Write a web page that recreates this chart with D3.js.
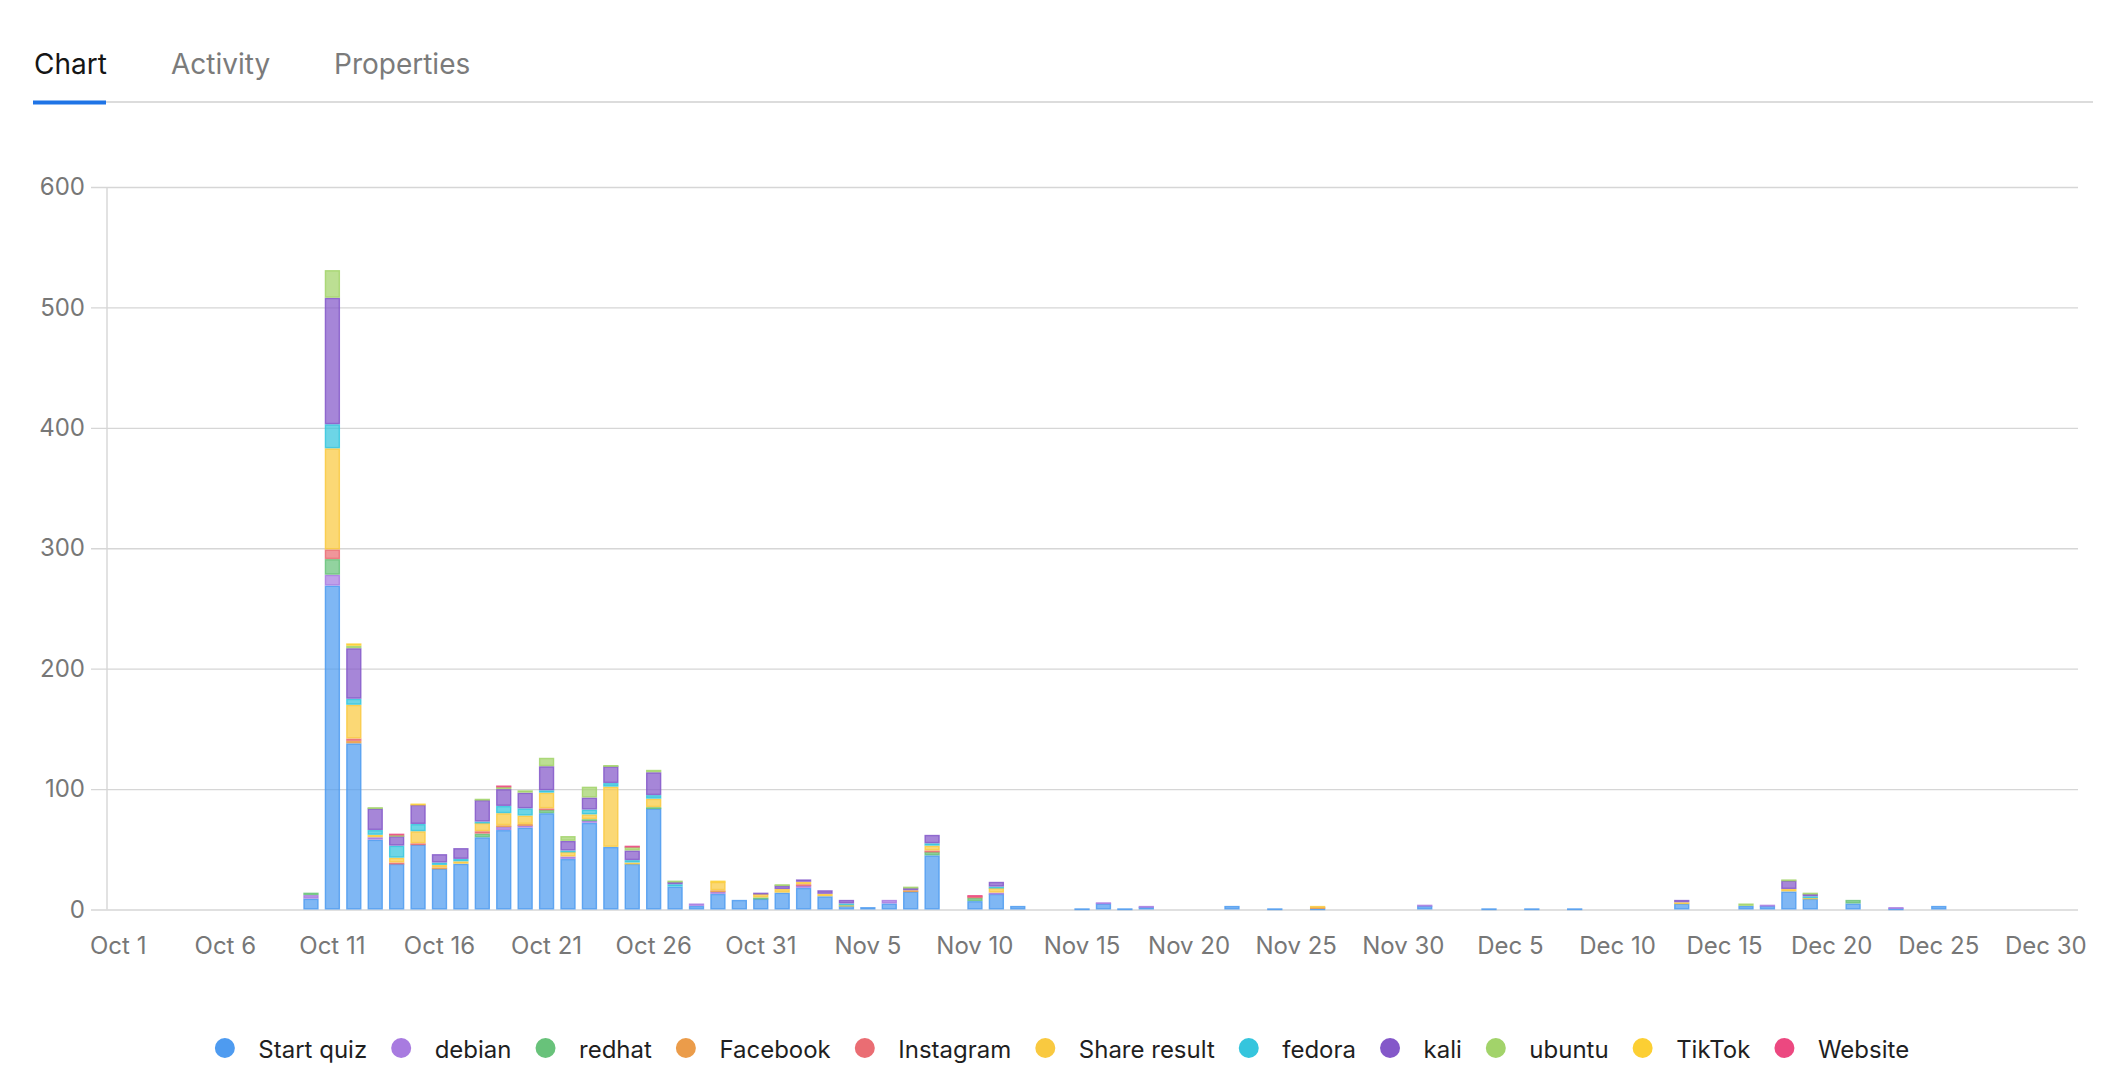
<!DOCTYPE html>
<html><head><meta charset="utf-8">
<script src="https://cdn.jsdelivr.net/npm/d3@7"></script>
<style>
html,body{margin:0;padding:0;background:#fff;}
svg{display:block;font-family:Inter,"Noto Sans",sans-serif;}
</style></head><body>
<svg id="c" width="2108" height="1089"></svg>
<script>
// ---------- data ----------
const tabs = ["Chart", "Activity", "Properties"];
const seriesNames = ["Start quiz","debian","redhat","Facebook","Instagram","Share result","fedora","kali","ubuntu","TikTok","Website"];
const seriesColors = ["#4e9bf0","#a87be0","#68c27a","#eb9c4a","#ea6d73","#f9c940","#35c5dd","#8458c9","#a2d36a","#fccf33","#ec4880"];
const xTickLabels = ["Oct 1","Oct 6","Oct 11","Oct 16","Oct 21","Oct 26","Oct 31","Nov 5","Nov 10","Nov 15","Nov 20","Nov 25","Nov 30","Dec 5","Dec 10","Dec 15","Dec 20","Dec 25","Dec 30"];
const yTicks = [0,100,200,300,400,500,600];

// one value per day, Oct 1 .. Dec 31
const startQuiz = [
  0,0,0,0,0,0,0,0,0,9,   269,138,58,38,54,34,38,60,66,68,   80,42,72,52,38,84,19,3,13,8,   9,
  14,18,11,3,2,5,15,45,0,7,   13,3,0,0,1,5,1,2,0,0,   0,3,0,1,0,1,0,0,0,0,
  3,0,0,1,0,1,0,1,0,0,   0,0,5,0,0,3,3,15,9,0,   5,0,1,0,3,0,0,0,0,0,   0];
const debian = [
  0,0,0,0,0,0,0,0,0,3,   9,0,2,0,0,0,0,0,3,2,   0,2,2,0,0,0,0,2,2,0,   0,
  0,2,0,0,0,3,0,0,0,0,   1,0,0,0,0,1,0,1,0,0,   0,0,0,0,0,0,0,0,0,0,
  1,0,0,0,0,0,0,0,0,0,   0,0,0,0,0,0,1,0,0,0,   0,0,1,0,0,0,0,0,0,0,   0];
const redhat = [
  0,0,0,0,0,0,0,0,0,2,   13,0,0,0,0,0,0,3,0,0,   3,0,1,0,0,1,0,0,0,0,   1,
  0,0,0,0,0,0,0,3,0,3,   0,0,0,0,0,0,0,0,0,0,   0,0,0,0,0,0,0,0,0,0,
  0,0,0,0,0,0,0,0,0,0,   0,0,0,0,0,0,0,0,0,0,   3,0,0,0,0,0,0,0,0,0,   0];
const facebook = [
  0,0,0,0,0,0,0,0,0,0,   0,2,0,0,0,1,0,0,1,1,   0,0,0,0,0,0,0,0,1,0,   0,
  0,0,0,0,0,0,1,0,0,0,   0,0,0,0,0,0,0,0,0,0,   0,0,0,0,0,1,0,0,0,0,
  0,0,0,0,0,0,0,0,0,0,   0,0,0,0,0,0,0,0,0,0,   0,0,0,0,0,0,0,0,0,0,   0];
const instagram = [
  0,0,0,0,0,0,0,0,0,0,   8,2,0,1,1,0,0,2,0,0,   1,0,0,0,0,0,0,0,0,0,   0,
  0,1,0,0,0,0,0,1,0,1,   0,0,0,0,0,0,0,0,0,0,   0,0,0,0,0,0,0,0,0,0,
  0,0,0,0,0,0,0,0,0,0,   0,0,0,0,0,0,0,0,0,0,   0,0,0,0,0,0,0,0,0,0,   0];
const shareResult = [
  0,0,0,0,0,0,0,0,0,0,   84,28,2,4,10,2,2,7,10,7,   13,4,4,50,1,7,0,0,7,0,   3,
  3,2,2,1,0,0,0,4,0,0,   4,0,0,0,0,0,0,0,0,0,   0,0,0,0,0,1,0,0,0,0,
  0,0,0,0,0,0,0,0,0,0,   0,0,1,0,0,0,0,2,1,0,   0,0,0,0,0,0,0,0,0,0,   0];
const fedora = [
  0,0,0,0,0,0,0,0,0,0,   20,5,4,10,6,2,2,1,6,6,   2,1,4,3,2,3,2,0,0,0,   0,
  0,0,0,1,0,0,0,2,0,0,   1,0,0,0,0,0,0,0,0,0,   0,0,0,0,0,0,0,0,0,0,
  0,0,0,0,0,0,0,0,0,0,   0,0,0,0,0,0,0,0,1,0,   0,0,0,0,0,0,0,0,0,0,   0];
const kali = [
  0,0,0,0,0,0,0,0,0,0,   105,42,18,8,16,7,9,18,14,13,   20,8,10,14,8,19,2,0,0,0,   1,
  3,2,3,3,0,0,2,7,0,0,   4,0,0,0,0,0,0,0,0,0,   0,0,0,0,0,0,0,0,0,0,
  0,0,0,0,0,0,0,0,0,0,   0,0,2,0,0,0,0,7,2,0,   0,0,0,0,0,0,0,0,0,0,   0];
const ubuntu = [
  0,0,0,0,0,0,0,0,0,0,   23,2,1,1,0,0,0,1,2,2,   7,4,9,1,3,2,1,0,0,0,   0,
  1,0,0,0,0,0,1,0,0,0,   0,0,0,0,0,0,0,0,0,0,   0,0,0,0,0,0,0,0,0,0,
  0,0,0,0,0,0,0,0,0,0,   0,0,0,0,0,2,0,1,1,0,   0,0,0,0,0,0,0,0,0,0,   0];
const tiktok = [
  0,0,0,0,0,0,0,0,0,0,   0,2,0,0,1,0,0,0,0,0,   0,0,0,0,0,0,0,0,1,0,   0,
  0,0,0,0,0,0,0,0,0,0,   0,0,0,0,0,0,0,0,0,0,   0,0,0,0,0,0,0,0,0,0,
  0,0,0,0,0,0,0,0,0,0,   0,0,0,0,0,0,0,0,0,0,   0,0,0,0,0,0,0,0,0,0,   0];
const website = [
  0,0,0,0,0,0,0,0,0,0,   0,0,0,1,0,0,0,0,1,0,   0,0,0,0,1,0,0,0,0,0,   0,
  0,0,0,0,0,0,0,0,0,1,   0,0,0,0,0,0,0,0,0,0,   0,0,0,0,0,0,0,0,0,0,
  0,0,0,0,0,0,0,0,0,0,   0,0,0,0,0,0,0,0,0,0,   0,0,0,0,0,0,0,0,0,0,   0];

const seriesValues = [startQuiz, debian, redhat, facebook, instagram, shareResult, fedora, kali, ubuntu, tiktok, website];

// ---------- build ----------
const fmt = d3.utcFormat("%b %-d");
const days = d3.utcDay.range(new Date(Date.UTC(2023, 9, 1)), new Date(Date.UTC(2024, 0, 1)));
const categories = days.map(fmt);
const table = categories.map((c, i) => {
  const row = {day: c};
  seriesNames.forEach((s, k) => row[s] = seriesValues[k][i]);
  return row;
});

const svg = d3.select("#c");
const plotLeft = 107.5, plotRight = 2078, plotTop = 187, plotBottom = 909.5;

const x = d3.scaleBand().domain(categories).range([plotLeft, plotRight]).paddingInner(0.285).paddingOuter(0.1425);
const y = d3.scaleLinear().domain([0, 600]).range([plotBottom, plotTop]);
const color = d3.scaleOrdinal().domain(seriesNames).range(seriesColors);

// tabs
const tabX = [34, 171, 334];
svg.append("g").selectAll("text").data(tabs).join("text")
  .attr("x", (d, i) => tabX[i]).attr("y", 74)
  .attr("font-size", 28)
  .attr("fill", (d, i) => i === 0 ? "#151515" : "#7b7b7b")
  .text(d => d);
svg.append("rect").attr("x", 34).attr("y", 101).attr("width", 2059).attr("height", 2).attr("fill", "#dcdcdc");
svg.append("rect").attr("x", 33).attr("y", 100.5).attr("width", 73).attr("height", 4).attr("fill", "#1f74e6");

// y axis + grid
const yAxis = d3.axisLeft(y).tickValues(yTicks).tickSize(16).tickPadding(6);
const gy = svg.append("g").attr("transform", `translate(${plotLeft - 0.5},0)`).call(yAxis);
gy.select(".domain").remove();
gy.selectAll(".tick line").attr("x1", -16).attr("x2", plotRight - plotLeft + 0.5).attr("stroke", "#d6d6d6").attr("stroke-width", 1.4);
gy.selectAll(".tick text").attr("font-size", 24).attr("fill", "#777").attr("font-family", "Inter,'Noto Sans',sans-serif").attr("x", -22);
svg.append("line").attr("x1", plotLeft - 0.5).attr("x2", plotLeft - 0.5).attr("y1", plotTop).attr("y2", plotBottom)
  .attr("stroke", "#d6d6d6").attr("stroke-width", 1.4);

// stacked bars
const stacked = d3.stack().keys(seriesNames)(table);
const bw = x.bandwidth();
const layers = svg.append("g").selectAll("g").data(stacked).join("g")
  .attr("fill", d => color(d.key)).attr("stroke", d => color(d.key));
layers.selectAll("rect").data(d => d.filter(p => p[1] - p[0] > 0)).join("rect")
  .attr("x", p => x(p.data.day) + 0.7)
  .attr("y", p => y(p[1]) + 0.7)
  .attr("width", bw - 1.4)
  .attr("height", p => Math.max(0.5, y(p[0]) - y(p[1]) - 1.4))
  .attr("fill-opacity", 0.72)
  .attr("stroke-opacity", 0.85)
  .attr("stroke-width", 1.4);

// x axis labels
const xAxis = d3.axisBottom(x).tickValues(xTickLabels).tickSize(0).tickPadding(0);
const gx = svg.append("g").attr("transform", `translate(0,${plotBottom})`).call(xAxis);
gx.select(".domain").remove();
gx.selectAll(".tick text").attr("font-size", 24).attr("fill", "#777")
  .attr("font-family", "Inter,'Noto Sans',sans-serif")
  .attr("dy", null).attr("y", 36).attr("dominant-baseline", "central");

// legend
const lg = svg.append("g").attr("font-size", 24).attr("fill", "#1f1f1f");
const items = lg.selectAll("g").data(seriesNames).join("g");
items.append("circle").attr("r", 10).attr("cy", 0).attr("fill", d => color(d));
items.append("text").attr("x", 33.5).attr("dominant-baseline", "central").attr("y", 1).text(d => d);
let cur = 0; const pos = [];
items.each(function () {
  const tw = d3.select(this).select("text").node().getComputedTextLength();
  pos.push(cur);
  cur += 33.5 + tw + 34;
});
const totalW = cur - 34 + 10;
const startX = 1062 - totalW / 2 + 10;
items.attr("transform", (d, i) => `translate(${startX + pos[i]},1048)`);
</script>
</body></html>
